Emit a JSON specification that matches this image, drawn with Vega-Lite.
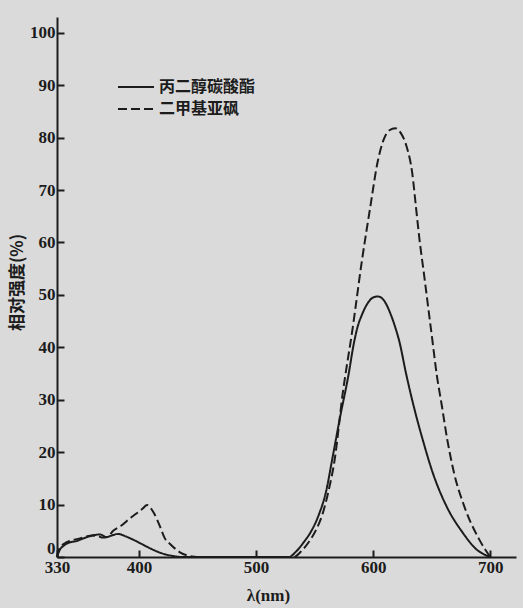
{
  "$schema": "https://vega.github.io/schema/vega-lite/v6.json",
  "width": 459,
  "height": 540,
  "autosize": {"type": "none"},
  "padding": {"left": 57, "top": 17, "right": 7, "bottom": 51},
  "background": "#dadada",
  "config": {"view": {"stroke": null}, "font": "Liberation Serif"},
  "data": {
    "values": [
      {"solvent": "丙二醇碳酸酯", "nm": 330, "val": 0},
      {"solvent": "丙二醇碳酸酯", "nm": 332, "val": 1.2},
      {"solvent": "丙二醇碳酸酯", "nm": 336, "val": 2.2},
      {"solvent": "丙二醇碳酸酯", "nm": 341, "val": 2.8},
      {"solvent": "丙二醇碳酸酯", "nm": 346, "val": 3.0},
      {"solvent": "丙二醇碳酸酯", "nm": 352, "val": 3.5},
      {"solvent": "丙二醇碳酸酯", "nm": 360, "val": 4.1},
      {"solvent": "丙二醇碳酸酯", "nm": 367, "val": 4.3},
      {"solvent": "丙二醇碳酸酯", "nm": 372, "val": 3.8},
      {"solvent": "丙二醇碳酸酯", "nm": 378, "val": 4.2},
      {"solvent": "丙二醇碳酸酯", "nm": 382, "val": 4.4},
      {"solvent": "丙二醇碳酸酯", "nm": 389, "val": 3.9},
      {"solvent": "丙二醇碳酸酯", "nm": 396, "val": 3.2},
      {"solvent": "丙二醇碳酸酯", "nm": 403, "val": 2.4},
      {"solvent": "丙二醇碳酸酯", "nm": 410, "val": 1.6},
      {"solvent": "丙二醇碳酸酯", "nm": 416, "val": 1.0},
      {"solvent": "丙二醇碳酸酯", "nm": 421, "val": 0.6},
      {"solvent": "丙二醇碳酸酯", "nm": 429, "val": 0.2},
      {"solvent": "丙二醇碳酸酯", "nm": 436, "val": 0},
      {"solvent": "丙二醇碳酸酯", "nm": 480, "val": 0},
      {"solvent": "丙二醇碳酸酯", "nm": 528, "val": 0},
      {"solvent": "丙二醇碳酸酯", "nm": 534, "val": 1.0},
      {"solvent": "丙二醇碳酸酯", "nm": 541, "val": 2.9},
      {"solvent": "丙二醇碳酸酯", "nm": 547.3, "val": 5.0},
      {"solvent": "丙二醇碳酸酯", "nm": 553.5, "val": 8.0},
      {"solvent": "丙二醇碳酸酯", "nm": 559.8, "val": 12.5},
      {"solvent": "丙二醇碳酸酯", "nm": 565.1, "val": 18.7},
      {"solvent": "丙二醇碳酸酯", "nm": 571.6, "val": 26.5},
      {"solvent": "丙二醇碳酸酯", "nm": 579, "val": 34.8},
      {"solvent": "丙二醇碳酸酯", "nm": 583.4, "val": 40.6},
      {"solvent": "丙二醇碳酸酯", "nm": 586.6, "val": 43.8},
      {"solvent": "丙二醇碳酸酯", "nm": 590.8, "val": 46.4},
      {"solvent": "丙二醇碳酸酯", "nm": 595.9, "val": 48.6},
      {"solvent": "丙二醇碳酸酯", "nm": 600, "val": 49.5},
      {"solvent": "丙二醇碳酸酯", "nm": 604, "val": 49.7},
      {"solvent": "丙二醇碳酸酯", "nm": 609, "val": 49.0},
      {"solvent": "丙二醇碳酸酯", "nm": 614.8, "val": 46.4},
      {"solvent": "丙二醇碳酸酯", "nm": 618.6, "val": 44.0},
      {"solvent": "丙二醇碳酸酯", "nm": 622.5, "val": 41.0},
      {"solvent": "丙二醇碳酸酯", "nm": 628.1, "val": 35.0},
      {"solvent": "丙二醇碳酸酯", "nm": 634.7, "val": 28.7},
      {"solvent": "丙二醇碳酸酯", "nm": 642.3, "val": 22.4},
      {"solvent": "丙二醇碳酸酯", "nm": 651, "val": 16.0},
      {"solvent": "丙二醇碳酸酯", "nm": 662.6, "val": 9.7},
      {"solvent": "丙二醇碳酸酯", "nm": 676.3, "val": 4.7},
      {"solvent": "丙二醇碳酸酯", "nm": 688, "val": 1.5},
      {"solvent": "丙二醇碳酸酯", "nm": 700, "val": 0},
      {"solvent": "二甲基亚砜", "nm": 330, "val": 0},
      {"solvent": "二甲基亚砜", "nm": 332, "val": 1.6},
      {"solvent": "二甲基亚砜", "nm": 336, "val": 2.5},
      {"solvent": "二甲基亚砜", "nm": 341, "val": 3.1},
      {"solvent": "二甲基亚砜", "nm": 349, "val": 3.5},
      {"solvent": "二甲基亚砜", "nm": 355, "val": 3.9},
      {"solvent": "二甲基亚砜", "nm": 360, "val": 4.1},
      {"solvent": "二甲基亚砜", "nm": 365, "val": 4.0},
      {"solvent": "二甲基亚砜", "nm": 369, "val": 3.7},
      {"solvent": "二甲基亚砜", "nm": 373, "val": 3.8},
      {"solvent": "二甲基亚砜", "nm": 378, "val": 5.0},
      {"solvent": "二甲基亚砜", "nm": 385, "val": 6.0},
      {"solvent": "二甲基亚砜", "nm": 393, "val": 7.5},
      {"solvent": "二甲基亚砜", "nm": 399, "val": 8.5},
      {"solvent": "二甲基亚砜", "nm": 403, "val": 9.2},
      {"solvent": "二甲基亚砜", "nm": 407, "val": 9.9},
      {"solvent": "二甲基亚砜", "nm": 410, "val": 9.3},
      {"solvent": "二甲基亚砜", "nm": 413, "val": 8.3},
      {"solvent": "二甲基亚砜", "nm": 418, "val": 5.8},
      {"solvent": "二甲基亚砜", "nm": 422, "val": 3.6},
      {"solvent": "二甲基亚砜", "nm": 427, "val": 2.4},
      {"solvent": "二甲基亚砜", "nm": 435, "val": 0.9},
      {"solvent": "二甲基亚砜", "nm": 443, "val": 0.2},
      {"solvent": "二甲基亚砜", "nm": 450, "val": 0},
      {"solvent": "二甲基亚砜", "nm": 500, "val": 0},
      {"solvent": "二甲基亚砜", "nm": 532, "val": 0},
      {"solvent": "二甲基亚砜", "nm": 539, "val": 1.2},
      {"solvent": "二甲基亚砜", "nm": 545.2, "val": 2.9},
      {"solvent": "二甲基亚砜", "nm": 551.3, "val": 5.2},
      {"solvent": "二甲基亚砜", "nm": 556.5, "val": 8.0},
      {"solvent": "二甲基亚砜", "nm": 561.8, "val": 12.5},
      {"solvent": "二甲基亚砜", "nm": 567.1, "val": 18.5},
      {"solvent": "二甲基亚砜", "nm": 573.9, "val": 31.0},
      {"solvent": "二甲基亚砜", "nm": 582.6, "val": 43.8},
      {"solvent": "二甲基亚砜", "nm": 590.4, "val": 56.5},
      {"solvent": "二甲基亚砜", "nm": 598, "val": 67.4},
      {"solvent": "二甲基亚砜", "nm": 603.5, "val": 75.0},
      {"solvent": "二甲基亚砜", "nm": 608.8, "val": 79.5},
      {"solvent": "二甲基亚砜", "nm": 613.9, "val": 81.4},
      {"solvent": "二甲基亚砜", "nm": 618.9, "val": 81.8},
      {"solvent": "二甲基亚砜", "nm": 623.8, "val": 80.8},
      {"solvent": "二甲基亚砜", "nm": 628.7, "val": 78.2},
      {"solvent": "二甲基亚砜", "nm": 633.4, "val": 73.2},
      {"solvent": "二甲基亚砜", "nm": 636.5, "val": 66.9},
      {"solvent": "二甲基亚砜", "nm": 639.6, "val": 60.5},
      {"solvent": "二甲基亚砜", "nm": 643.3, "val": 54.2},
      {"solvent": "二甲基亚砜", "nm": 646.9, "val": 47.8},
      {"solvent": "二甲基亚砜", "nm": 650.5, "val": 41.5},
      {"solvent": "二甲基亚砜", "nm": 654.1, "val": 35.1},
      {"solvent": "二甲基亚砜", "nm": 658.7, "val": 28.8},
      {"solvent": "二甲基亚砜", "nm": 663.3, "val": 22.4},
      {"solvent": "二甲基亚砜", "nm": 669, "val": 16.1},
      {"solvent": "二甲基亚砜", "nm": 677.6, "val": 9.8},
      {"solvent": "二甲基亚砜", "nm": 690.2, "val": 3.5},
      {"solvent": "二甲基亚砜", "nm": 700, "val": 0}
    ]
  },
  "mark": {"type": "line", "interpolate": "monotone", "color": "#1c1c1c", "strokeWidth": 2},
  "encoding": {
    "x": {
      "field": "nm",
      "type": "quantitative",
      "scale": {"domain": [330, 722], "nice": false, "zero": false},
      "axis": {
        "values": [330, 400, 500, 600, 700],
        "title": "λ(nm)",
        "grid": false,
        "labelFlush": false,
        "domainColor": "#1c1c1c",
        "domainWidth": 2,
        "tickColor": "#1c1c1c",
        "tickWidth": 2,
        "tickSize": -7,
        "labelPadding": 9,
        "labelFont": "Liberation Serif",
        "labelFontSize": 17,
        "labelFontWeight": "bold",
        "labelColor": "#1c1c1c",
        "titleFont": "Liberation Serif",
        "titleFontSize": 17,
        "titleFontWeight": "bold",
        "titleColor": "#1c1c1c",
        "titleX": 211,
        "titleY": 30
      }
    },
    "y": {
      "field": "val",
      "type": "quantitative",
      "scale": {"domain": [0, 103], "nice": false},
      "axis": {
        "values": [0, 10, 20, 30, 40, 50, 60, 70, 80, 90, 100],
        "title": "相对强度(%)",
        "grid": false,
        "domainColor": "#1c1c1c",
        "domainWidth": 2,
        "tickColor": "#1c1c1c",
        "tickWidth": 2,
        "tickSize": -7,
        "labelPadding": 9,
        "labelBaseline": {"condition": {"test": "datum.value == 0", "value": "bottom"}, "value": "middle"},
        "labelFont": "Liberation Serif",
        "labelFontSize": 17,
        "labelFontWeight": "bold",
        "labelColor": "#1c1c1c",
        "titleFont": "Noto Sans CJK SC",
        "titleFontSize": 17,
        "titleFontWeight": "bold",
        "titleColor": "#1c1c1c",
        "titleX": -31,
        "titleY": 265
      }
    },
    "strokeDash": {
      "field": "solvent",
      "type": "nominal",
      "scale": {"domain": ["丙二醇碳酸酯", "二甲基亚砜"], "range": [[1, 0], [9, 4]]},
      "legend": {
        "title": null,
        "orient": "none",
        "legendX": 60,
        "legendY": 60,
        "symbolType": "stroke",
        "symbolSize": 1296,
        "symbolStrokeWidth": 2,
        "symbolStrokeColor": "#1c1c1c",
        "labelFont": "Noto Sans CJK SC",
        "labelFontSize": 16,
        "labelFontWeight": "bold",
        "labelColor": "#1c1c1c",
        "labelOffset": 4,
        "clipHeight": 20,
        "rowPadding": 2
      }
    }
  }
}
